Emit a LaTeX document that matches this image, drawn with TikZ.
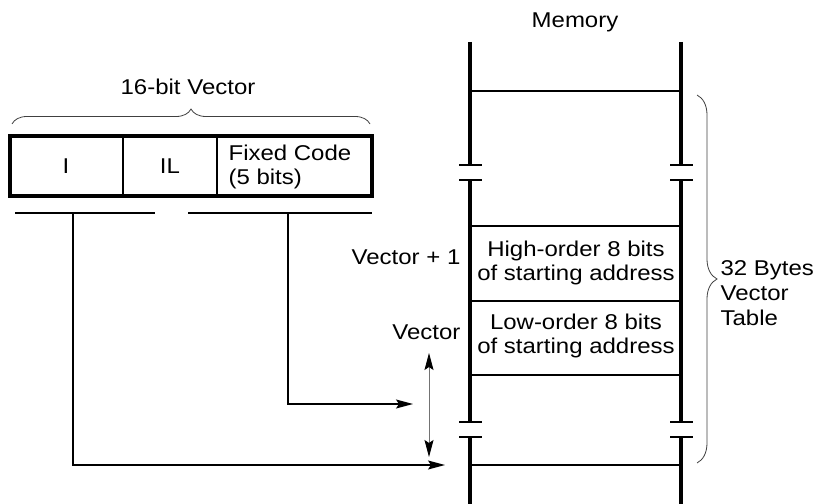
\documentclass[tikz,border=0pt]{standalone}
\usepackage{fontspec}
\setmainfont{Liberation Sans}[FakeStretch=1.12]
\usetikzlibrary{arrows.meta,decorations.pathreplacing}
\begin{document}
\begin{tikzpicture}[x=1bp,y=-1bp,font=\fontsize{21.5}{25}\selectfont,line width=1.2bp,
  wall/.style={line width=3.2bp},
  tip/.style={-{Stealth[length=17bp,width=9bp,inset=3bp]}},
  bracket/.style={decorate,decoration={brace,amplitude=#1},draw=black!75,line width=0.8bp}]
  \useasboundingbox (0,0) rectangle (828,504);
  % 16-bit vector
  \node (vec16) at (188,87) {16-bit Vector};
  \draw[bracket=15bp] (12,124) -- (370,124);
  \draw[wall] (10,136) rectangle (372,196);
  \draw (123,136) -- (123,196) (217,136) -- (217,196);
  \node (fI) at (66,166) {I};
  \node (fIL) at (170,166) {IL};
  \node[anchor=west,align=left,inner sep=0pt] (fFix) at (228,167) {Fixed Code\\(5 bits)};
  \draw (15,213) -- (155,213) (188,213) -- (372,213);
  % memory
  \node (mem) at (575,22) {Memory};
  \foreach \x in {470,681} {
    \draw[wall] (\x,42) -- (\x,165) (\x,180) -- (\x,422) (\x,437) -- (\x,504);
    \foreach \y in {165,180,422,437}
      \draw (\x-11,\y) -- (\x+12,\y);
  }
  \foreach \y in {91,226,301,375,465}
    \draw (470,\y) -- (681,\y);
  \node[align=center] (hiByte) at (576,263) {High-order 8 bits\\of starting address};
  \node[align=center] (loByte) at (576,336) {Low-order 8 bits\\of starting address};
  \node[anchor=east,inner sep=0pt] (vecHi) at (461,257) {Vector + 1};
  \node[anchor=east,inner sep=0pt] (vecLo) at (461,332) {Vector};
  \draw[bracket=20bp] (697,95) -- (697,463);
  \node[anchor=west,align=left,inner sep=0pt] (table) at (720,293) {32 Bytes\\Vector\\Table};
  % pointers
  \coordinate (iDrop) at (73,213);
  \coordinate (fixDrop) at (288,213);
  \coordinate (iEnd) at (445,465);
  \coordinate (fixEnd) at (413,404);
  \coordinate (spanTop) at (429,353);
  \coordinate (spanBot) at (429,457);
  \draw[tip] (iDrop) |- (iEnd);
  \draw[tip] (fixDrop) |- (fixEnd);
  \draw[{Stealth[length=17bp,width=9bp,inset=3bp,color=black]}-{Stealth[length=17bp,width=9bp,inset=3bp,color=black]},draw=black!55,line width=0.8bp] (spanTop) -- (spanBot);
\end{tikzpicture}
\end{document}
